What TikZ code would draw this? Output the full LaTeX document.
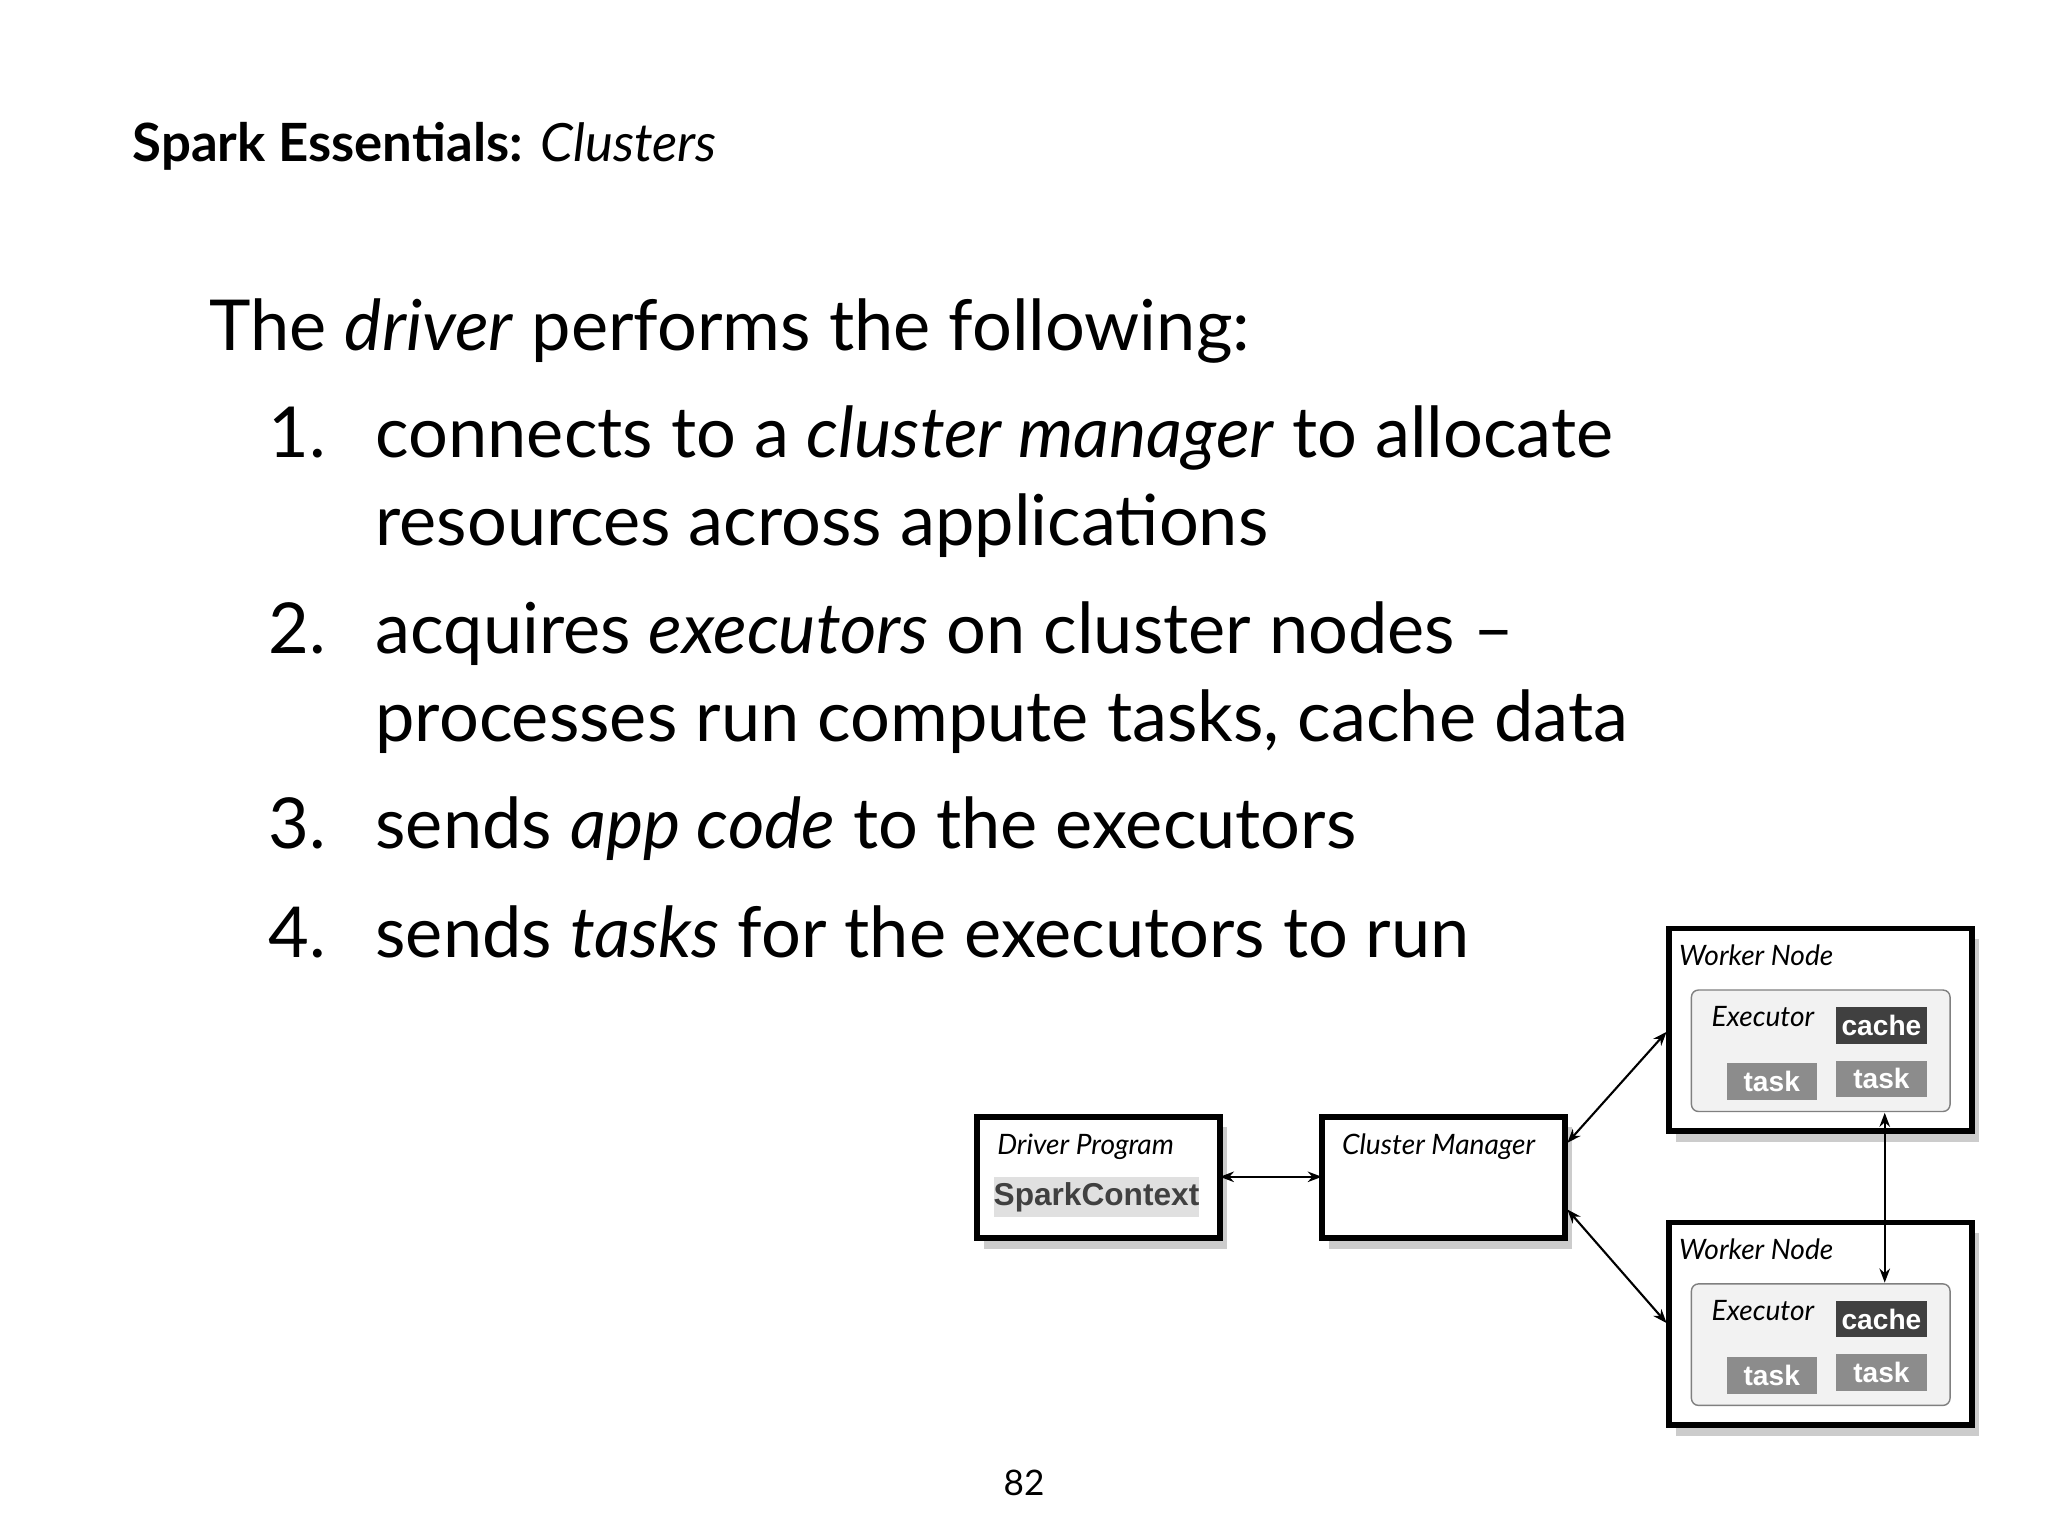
\documentclass[tikz,border=0pt]{standalone}
\usepackage{fontspec}
\setmainfont{Lato}
\newfontfamily\arialf{Liberation Sans}
\usetikzlibrary{shadows,arrows.meta}
\begin{document}
\begin{tikzpicture}[x=0.01306cm,y=-0.01306cm,
  box/.style={draw,line width=1.6pt,fill=white,drop shadow={shadow xshift=2pt,shadow yshift=-3pt,opacity=0.4}},
  lbl/.style={anchor=base west,inner sep=0pt,font=\fontsize{8}{10}\selectfont\itshape},
  body/.style={anchor=base west,inner sep=0pt,font=\fontsize{20}{24}\selectfont},
  tsk/.style={fill=black!45,text=white,font=\fontsize{8}{10}\arialf\bfseries,minimum width=69*0.01306cm,minimum height=28*0.01306cm,inner sep=0pt},
  arr/.style={{Stealth[length=4pt,width=3pt]}-{Stealth[length=4pt,width=3pt]},line width=0.6pt}]
\useasboundingbox (0,0) rectangle (1568,1176);
\node[anchor=base west,inner sep=0pt,font=\fontsize{15}{18}\selectfont] (title) at (101,124) {\textbf{Spark Essentials:} \textit{Clusters}};
\node[body] (intro) at (160,268) {The \textit{driver} performs the following:};
\node[body] (n1) at (205,350) {1.};
\node[body] (t1) at (287,350) {connects to a \textit{cluster manager} to allocate};
\node[body] (t1b) at (287,418) {resources across applications};
\node[body] (n2) at (205,500) {2.};
\node[body] (t2) at (287,500) {acquires \textit{executors} on cluster nodes –};
\node[body] (t2b) at (287,568) {processes run compute tasks, cache data};
\node[body] (n3) at (205,650) {3.};
\node[body] (t3) at (287,650) {sends \textit{app code} to the executors};
\node[body] (n4) at (205,733) {4.};
\node[body] (t4) at (287,733) {sends \textit{tasks} for the executors to run};
% driver
\draw[box] (748,855) rectangle (934,948);
\coordinate (drv) at (934,901);
\node[lbl] (dl) at (763,884) {Driver Program};
\node[fill=black!12,text=black!75,font=\fontsize{9}{11}\arialf\bfseries,minimum width=147*0.01306cm,minimum height=31*0.01306cm,inner sep=0pt] (sc) at (839.5,916.5) {SparkContext};
% cluster manager
\draw[box] (1012,855) rectangle (1198,948);
\coordinate (cmL) at (1012,901);
\coordinate (cmT) at (1200,875);
\coordinate (cmB) at (1200,926);
\node[lbl] (cml) at (1027,884) {Cluster Manager};
\draw[arr] (drv) -- (cmL);
% workers
\foreach \i/\dy in {1/0,2/225}{
  \draw[box] (1278,711+\dy) rectangle (1510,866+\dy);
  \node[lbl] (wl\i) at (1285,739+\dy) {Worker Node};
  \draw[fill=black!5,draw=black!50,rounded corners=2pt] (1295,758+\dy) rectangle (1493,851+\dy);
  \node[lbl] (el\i) at (1310,786+\dy) {Executor};
  \node[tsk,fill=black!75] (c\i) at (1440.5,785+\dy) {cache};
  \node[tsk] (ta\i) at (1356.5,828+\dy) {task};
  \node[tsk] (tb\i) at (1440.5,826+\dy) {task};
}
\coordinate (w1) at (1276,790);
\coordinate (w2) at (1276,1013);
\coordinate (e1) at (1443,852);
\coordinate (e2) at (1443,982);
\draw[arr] (cmT) -- (w1);
\draw[arr] (cmB) -- (w2);
\draw[arr] (e1) -- (e2);
\node[anchor=base,font=\fontsize{10}{12}\selectfont] (pg) at (784,1145) {82};
\end{tikzpicture}
\end{document}
